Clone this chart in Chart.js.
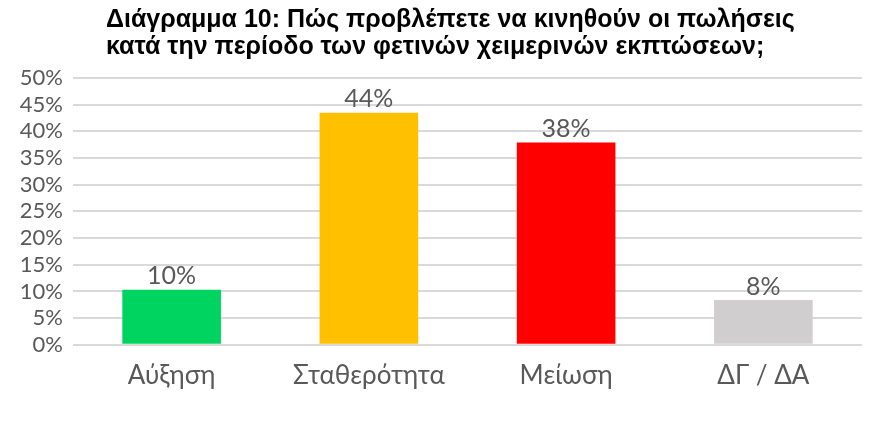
<!DOCTYPE html>
<html>
<head>
<meta charset="utf-8">
<script src="https://cdn.jsdelivr.net/npm/chart.js@4"></script>
<style>
html,body{margin:0;padding:0;background:#fff;}
#wrap{width:880px;height:421px;position:relative;}
</style>
</head>
<body>
<div id="wrap"><canvas id="c"></canvas></div>
<script>
const titleLines = ["Διάγραμμα 10: Πώς προβλέπετε να κινηθούν οι πωλήσεις", "κατά την περίοδο των φετινών χειμερινών εκπτώσεων;"];
const categories = ["Αύξηση", "Σταθερότητα", "Μείωση", "ΔΓ / ΔΑ"];
const values = [10.3, 43.5, 37.9, 8.4];
const valueLabels = ["10%", "44%", "38%", "8%"];
const barColors = ["#00d460", "#ffc000", "#ff0000", "#d0cece"];
const yTicks = [0, 5, 10, 15, 20, 25, 30, 35, 40, 45, 50];

const titlePlugin = {
  id: 'leftTitle',
  afterDraw(chart) {
    const ctx = chart.ctx;
    ctx.save();
    ctx.fillStyle = '#000';
    ctx.font = 'bold 25px "Liberation Sans", Arial, sans-serif';
    ctx.textAlign = 'left';
    ctx.textBaseline = 'alphabetic';
    ctx.fillText(titleLines[0], 106, 27);
    ctx.fillText(titleLines[1], 106, 54);
    ctx.restore();
  }
};

const labelPlugin = {
  id: 'valueLabels',
  afterDatasetsDraw(chart) {
    const ctx = chart.ctx;
    const meta = chart.getDatasetMeta(0);
    ctx.save();
    ctx.fillStyle = '#595959';
    ctx.font = '25px Lato, "Open Sans", sans-serif';
    ctx.textAlign = 'center';
    ctx.textBaseline = 'bottom';
    meta.data.forEach((bar, i) => {
      ctx.fillText(valueLabels[i], bar.x, bar.y - 1);
    });
    ctx.restore();
  }
};

new Chart(document.getElementById('c'), {
  type: 'bar',
  data: {
    labels: categories,
    datasets: [{
      data: values,
      backgroundColor: barColors,
      borderWidth: 0,
      barPercentage: 1.0,
      categoryPercentage: 0.5
    }]
  },
  options: {
    responsive: true,
    maintainAspectRatio: false,
    animation: false,
    events: [],
    layout: { padding: { top: 78, right: 18, bottom: 15, left: 0 } },
    plugins: { legend: { display: false }, tooltip: { enabled: false }, title: { display: false } },
    scales: {
      x: {
        grid: { display: false, drawTicks: false },
        border: { display: false },
        ticks: { color: '#595959', font: { family: 'Lato, "Open Sans", sans-serif', size: 26 }, padding: 15 }
      },
      y: {
        min: 0, max: 50,
        afterBuildTicks(axis) { axis.ticks = yTicks.map(v => ({ value: v })); },
        afterFit(axis) { axis.width = 73; },
        grid: { color: '#d9d9d9', lineWidth: 2, drawTicks: false },
        border: { display: false },
        ticks: {
          color: '#595959',
          autoSkip: false,
          font: { family: 'Lato, "Open Sans", sans-serif', size: 22 },
          padding: 10,
          callback: v => v + '%'
        }
      }
    }
  },
  plugins: [titlePlugin, labelPlugin]
});
</script>
</body>
</html>
